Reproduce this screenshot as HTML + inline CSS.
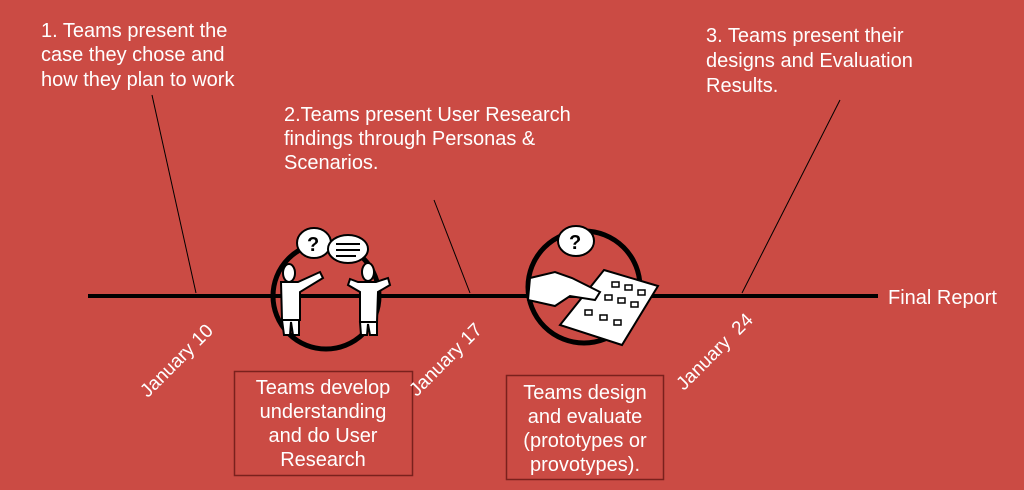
<!DOCTYPE html>
<html><head><style>
body{margin:0;width:1024px;height:490px;background:#cb4b44;overflow:hidden}
svg{display:block}
text{font-family:"Liberation Sans",sans-serif;fill:#fff;font-size:20px}
</style></head><body>
<svg width="1024" height="490" viewBox="0 0 1024 490">
<rect width="1024" height="490" fill="#cb4b44"/>
<line x1="88" y1="296" x2="878" y2="296" stroke="#000" stroke-width="4"/>
<line x1="152" y1="95" x2="196" y2="293" stroke="#000" stroke-width="1"/>
<line x1="434" y1="200" x2="470" y2="293" stroke="#000" stroke-width="1"/>
<line x1="840" y1="100" x2="742" y2="293" stroke="#000" stroke-width="1"/>
<!-- circle 1 -->
<circle cx="326" cy="296" r="53" fill="none" stroke="#000" stroke-width="5"/>
<ellipse cx="314" cy="243" rx="17" ry="15" fill="#fff" stroke="#000" stroke-width="2"/>
<text x="307" y="251" style="font-size:20px;fill:#000;font-weight:bold">?</text>
<ellipse cx="348" cy="249" rx="20" ry="14" fill="#fff" stroke="#000" stroke-width="2"/>
<line x1="336" y1="244" x2="360" y2="244" stroke="#000" stroke-width="2"/>
<line x1="336" y1="250" x2="360" y2="250" stroke="#000" stroke-width="2"/>
<line x1="336" y1="256" x2="356" y2="256" stroke="#000" stroke-width="2"/>
<g fill="#fff" stroke="#000" stroke-width="2">
<ellipse cx="289" cy="273" rx="6" ry="9"/>
<path d="M281 282 L298 282 L320 272 L323 278 L300 292 L300 320 L282 320 Z"/>
<path d="M282 320 L284 335 L290 335 L291 322 L293 335 L299 335 L299 320Z"/>
<ellipse cx="368" cy="272" rx="6" ry="9"/>
<path d="M358 282 L376 282 L388 278 L390 285 L378 292 L377 322 L360 322 L360 292 L348 285 L350 279Z"/>
<path d="M360 322 L361 335 L367 335 L368 324 L370 335 L377 335 L377 322Z"/>
</g>
<!-- circle 2 -->
<circle cx="584" cy="287" r="56" fill="none" stroke="#000" stroke-width="5"/>
<ellipse cx="576" cy="241" rx="18" ry="15" fill="#fff" stroke="#000" stroke-width="2"/>
<text x="569" y="249" style="font-size:20px;fill:#000;font-weight:bold">?</text>
<g stroke="#000" stroke-width="2" fill="#fff">
<path d="M604 270 L658 286 L622 345 L560 325 Z"/>
<path d="M530 278 L555 272 L572 278 L600 292 L595 300 L570 296 L555 306 L528 300 Z"/>
</g>
<g fill="none" stroke="#000" stroke-width="1.5">
<rect x="612" y="282" width="7" height="5"/><rect x="625" y="285" width="7" height="5"/><rect x="638" y="290" width="7" height="5"/>
<rect x="605" y="295" width="7" height="5"/><rect x="618" y="298" width="7" height="5"/><rect x="631" y="302" width="7" height="5"/>
<rect x="585" y="310" width="7" height="5"/><rect x="600" y="315" width="7" height="5"/><rect x="614" y="320" width="7" height="5"/>
</g>
<!-- boxes -->
<rect x="234.5" y="371.5" width="178" height="104" fill="none" stroke="#7a211d" stroke-width="1.5"/>
<rect x="506.5" y="375.5" width="157" height="104" fill="none" stroke="#7a211d" stroke-width="1.5"/>
<g text-anchor="middle">
<text x="323" y="394">Teams develop</text>
<text x="323" y="418">understanding</text>
<text x="323" y="442">and do User</text>
<text x="323" y="466">Research</text>
<text x="585" y="399">Teams design</text>
<text x="585" y="423">and evaluate</text>
<text x="585" y="447">(prototypes or</text>
<text x="585" y="471">provotypes).</text>
</g>
<g text-anchor="middle" style="font-size:19px">
<text transform="translate(181,365) rotate(-45)" style="font-size:19px">January 10</text>
<text transform="translate(450,364) rotate(-45)" style="font-size:19px">January 17</text>
<text transform="translate(719,356) rotate(-45)" style="font-size:19px">January&#160; 24</text>
</g>
<text x="41" y="37">1. Teams present the</text>
<text x="41" y="61">case they chose and</text>
<text x="41" y="86">how they plan to work</text>
<text x="284" y="121">2.Teams present User Research</text>
<text x="284" y="145">findings through Personas &amp;</text>
<text x="284" y="169">Scenarios.</text>
<text x="706" y="42">3. Teams present their</text>
<text x="706" y="67">designs and Evaluation</text>
<text x="706" y="92">Results.</text>
<text x="888" y="304">Final Report</text>
</svg>
</body></html>
